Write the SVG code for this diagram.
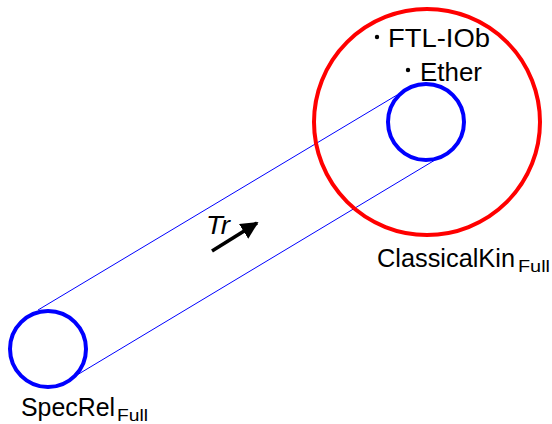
<svg xmlns="http://www.w3.org/2000/svg" width="552" height="424" viewBox="0 0 552 424">
<style>
text{font-family:"Liberation Sans","DejaVu Sans",sans-serif;fill:#000}
.lbl{font-size:26px}
.sub{font-size:17px}
.blue{fill:none;stroke:#0000ff;stroke-width:4}
</style>
<defs>
<marker id="ah" viewBox="0 0 10 10" refX="9" refY="5" markerWidth="5" markerHeight="5" orient="auto" markerUnits="strokeWidth">
<path d="M0,0 L10,5 L0,10 z" fill="#000"/>
</marker>
</defs>
<rect width="552" height="424" fill="#fff"/>
<g id="connectors">
<line x1="38" y1="310" x2="397" y2="95" stroke="#0000ff" stroke-width="1"/>
<line x1="77" y1="375" x2="435" y2="160" stroke="#0000ff" stroke-width="1"/>
</g>
<g id="classicalkin">
<circle cx="427" cy="122" r="113" fill="none" stroke="#ff0000" stroke-width="4"/>
<text class="lbl" x="377" y="267" textLength="138" lengthAdjust="spacingAndGlyphs">ClassicalKin</text>
<text class="sub" x="518" y="272" textLength="32" lengthAdjust="spacingAndGlyphs">Full</text>
<circle cx="377" cy="37" r="2.2" fill="#000"/>
<text class="lbl" x="388" y="47" textLength="102" lengthAdjust="spacingAndGlyphs">FTL-IOb</text>
<circle cx="408" cy="70" r="2.2" fill="#000"/>
<text class="lbl" x="420" y="81" textLength="62" lengthAdjust="spacingAndGlyphs">Ether</text>
</g>
<g id="ether-circle">
<circle class="blue" cx="426" cy="122" r="38"/>
</g>
<g id="specrel">
<circle class="blue" cx="48" cy="349" r="38"/>
<text class="lbl" x="21" y="416" textLength="94" lengthAdjust="spacingAndGlyphs">SpecRel</text>
<text class="sub" x="117" y="421" textLength="31" lengthAdjust="spacingAndGlyphs">Full</text>
</g>
<g id="tr">
<text class="lbl" x="206" y="234" font-style="italic" textLength="24" lengthAdjust="spacingAndGlyphs">Tr</text>
<line x1="212" y1="251" x2="257" y2="223" stroke="#000" stroke-width="3.5" marker-end="url(#ah)"/>
</g>
</svg>
